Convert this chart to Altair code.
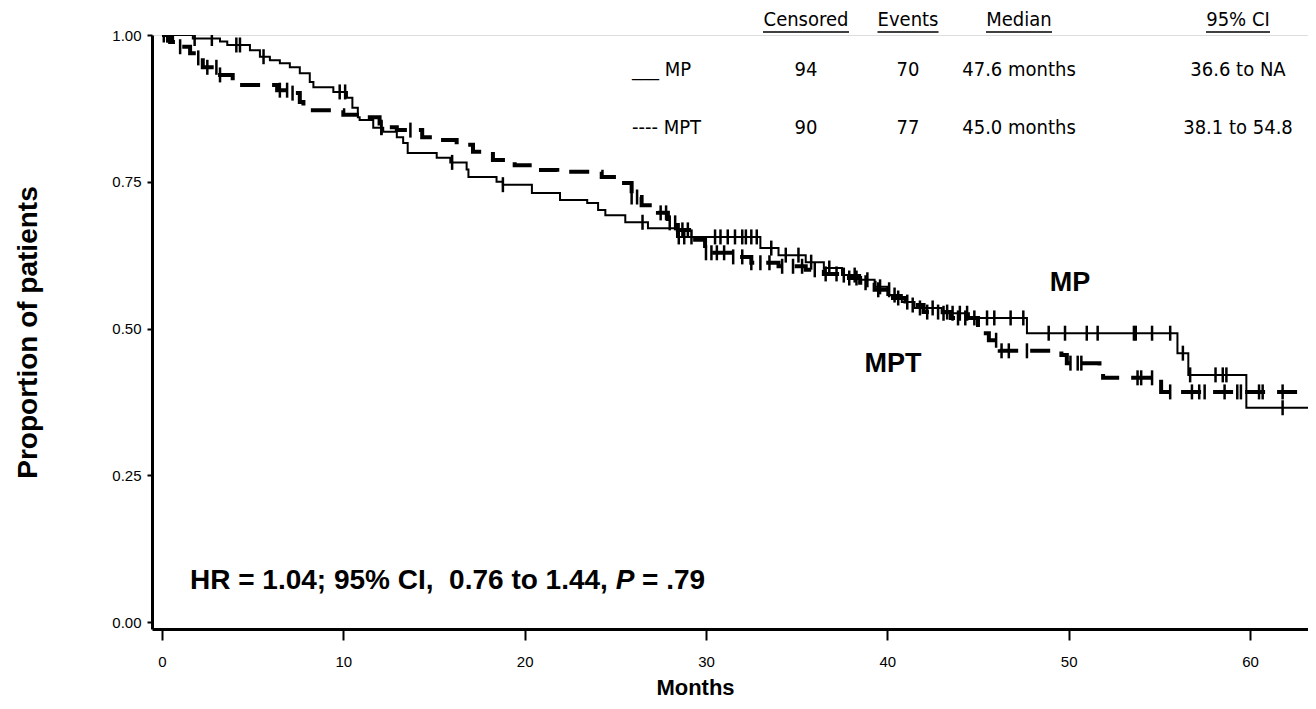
import altair as alt
import numpy as np
import pandas as pd

# ---------------- data ----------------
mp_time = [0, 1.7, 3.2, 3.6, 4.85, 5.4, 5.95, 6.5, 7.05, 7.6, 8.15, 8.35, 9.45, 10.2,
           10.5, 10.8, 10.9, 11.65, 12.2, 12.95, 13.3, 13.55, 15.15, 15.9, 16.8, 16.9,
           18.45, 18.8, 20.4, 21.95, 23.45, 24.05, 24.45, 25.55, 26.8, 28.4, 33.0, 34.0,
           35.5, 36.5, 37.5, 38.5, 39.3, 40.0, 40.8, 41.5, 43.0, 44.5, 47.7, 56.0, 56.6,
           59.8, 63.5]
mp_surv = [1.0, 0.994, 0.989, 0.983, 0.974, 0.963, 0.957, 0.952, 0.945, 0.935, 0.920,
           0.911, 0.903, 0.893, 0.876, 0.860, 0.855, 0.842, 0.835, 0.826, 0.816, 0.799,
           0.791, 0.783, 0.771, 0.758, 0.750, 0.745, 0.731, 0.719, 0.714, 0.702, 0.693,
           0.681, 0.671, 0.656, 0.637, 0.625, 0.613, 0.603, 0.591, 0.583, 0.571, 0.557,
           0.545, 0.535, 0.526, 0.518, 0.492, 0.458, 0.421, 0.365, 0.365]
mp_cens = [0.3, 0.6, 1.8, 2.75, 4.1, 4.3, 5.6, 9.8, 10.1, 12.1, 16.0, 18.8, 26.5, 28.5,
           28.8, 29.2, 30.5, 30.8, 31.2, 31.6, 32.0, 32.2, 32.5, 32.8, 33.6, 34.4, 35.1,
           35.8, 36.8, 37.6, 38.2, 38.9, 39.6, 40.4, 41.1, 41.8, 42.5, 43.1, 43.6, 44.0,
           44.4, 44.8, 45.5, 45.9, 46.8, 47.5, 48.9, 49.8, 51.0, 51.6, 53.6, 53.7, 54.6,
           55.6, 56.3, 56.7, 58.1, 58.5, 58.7, 61.8]

mpt_time = [0, 0.45, 1.0, 1.55, 1.95, 2.25, 3.05, 3.9, 6.35, 7.05, 7.6, 7.8, 8.0, 10.0,
            10.75, 12.0, 12.95, 14.35, 15.5, 16.25, 17.15, 18.25, 19.45, 20.7, 21.8,
            24.25, 25.35, 25.9, 26.45, 27.35, 27.9, 28.45, 29.25, 29.95, 31.45, 32.5,
            34.0, 35.5, 36.5, 37.5, 38.5, 39.3, 40.2, 41.0, 42.0, 43.5, 45.0, 45.6, 46.2,
            49.6, 49.9, 51.7, 51.9, 55.1, 63.5]
mpt_surv = [1.0, 0.988, 0.980, 0.969, 0.961, 0.945, 0.932, 0.915, 0.906, 0.901, 0.886,
            0.877, 0.872, 0.864, 0.860, 0.843, 0.838, 0.826, 0.821, 0.813, 0.801, 0.787,
            0.778, 0.770, 0.767, 0.758, 0.748, 0.724, 0.710, 0.697, 0.680, 0.668, 0.651,
            0.629, 0.622, 0.612, 0.606, 0.600, 0.593, 0.586, 0.578, 0.566, 0.552, 0.540,
            0.528, 0.518, 0.492, 0.480, 0.462, 0.455, 0.441, 0.433, 0.416, 0.392, 0.392]
mpt_cens = [0.1, 0.3, 1.0, 2.0, 2.5, 3.0, 3.2, 6.5, 6.9, 7.2, 12.1, 13.7, 25.9, 26.2,
            27.5, 27.8, 28.0, 28.3, 28.7, 29.0, 30.0, 30.3, 30.6, 31.0, 31.5, 32.0, 32.5,
            33.0, 33.5, 34.2, 34.8, 35.3, 36.0, 36.6, 37.2, 37.9, 38.3, 38.8, 39.5, 40.1,
            40.6, 41.4, 42.2, 42.8, 43.3, 43.9, 44.3, 46.0, 46.3, 46.7, 47.7, 50.1, 50.5,
            50.7, 53.8, 54.0, 54.6, 55.6, 56.8, 57.2, 57.5, 58.6, 59.3, 59.5, 60.5, 60.7,
            61.8, 63.4]

x_ticks = [0, 10, 20, 30, 40, 50, 60]
y_ticks = [0.0, 0.25, 0.5, 0.75, 1.0]

table_headers = ["Censored", "Events", "Median", "95% CI"]
row_labels = ["___ MP", "---- MPT"]
censored = ["94", "90"]
events = ["70", "77"]
medians = ["47.6 months", "45.0 months"]
cis = ["36.6 to NA", "38.1 to 54.8"]
NB = "\u00a0"
hr_text = ["HR = 1.04; 95% CI," + NB + " 0.76 to 1.44,", "P", "= .79"]

# ---------------- build tables ----------------
def step_lookup(times, surv, t):
    idx = np.searchsorted(np.array(times), np.array(t), side="right") - 1
    return [surv[i] for i in idx]

curves = pd.concat([
    pd.DataFrame({"time": mp_time, "surv": mp_surv, "arm": "MP"}),
    pd.DataFrame({"time": mpt_time, "surv": mpt_surv, "arm": "MPT"}),
])
cens = pd.concat([
    pd.DataFrame({"time": mp_cens, "surv": step_lookup(mp_time, mp_surv, mp_cens), "arm": "MP"}),
    pd.DataFrame({"time": mpt_cens, "surv": step_lookup(mpt_time, mpt_surv, mpt_cens), "arm": "MPT"}),
])

# Arial/Liberation Sans Bold advance widths (1/1000 em) to place the italic "P"
BOLD_W = {" ": 278, NB: 278, "%": 889, ",": 278, ".": 278, ";": 333, "=": 584, "C": 722,
          "H": 722, "I": 278, "P": 667, "R": 722, "t": 333, "o": 611}
def bold_width(s, size):
    return sum(BOLD_W.get(c, 556) for c in s) * size / 1000.0

# ---------------- layout ----------------
PL, PT = 152, 35          # plot origin on the page
W, H = 1156, 594
XMIN, XMAX = -0.551, 63.2
YMIN, YMAX = -0.0119, 1.0
NARROW = "DejaVu Sans Condensed, Liberation Sans Narrow, Liberation Sans, Arial"
SANS = "Liberation Sans, Arial, Helvetica"

xs = alt.Scale(domain=[XMIN, XMAX], nice=False, zero=False)
ys = alt.Scale(domain=[YMIN, YMAX], nice=False, zero=False)

x_axis = alt.Axis(values=x_ticks, format="d", title="Months", grid=False,
                  domainWidth=3, domainColor="black", tickColor="black", tickSize=11,
                  tickWidth=2, labelFontSize=15, labelFont=SANS, labelPadding=14,
                  labelColor="black", titleFont=SANS, titleFontSize=22,
                  titleFontWeight="bold", titleColor="black", titleX=543, titleY=58,
                  titleBaseline="middle", titleAnchor="start", titleAlign="center")
y_axis = alt.Axis(values=y_ticks, format=".2f", title="Proportion of patients", grid=False,
                  domainWidth=3, domainColor="black", tickColor="black", tickSize=5,
                  tickWidth=2, labelFontSize=15, labelFont=SANS, labelPadding=6,
                  labelColor="black", titleFont=SANS, titleFontSize=28,
                  titleFontWeight="bold", titleColor="black", titleX=-124, titleY=297,
                  titleAngle=-90, titleBaseline="middle", titleAlign="center")

base = alt.Chart(curves)
mp_line = base.transform_filter(alt.datum.arm == "MP").mark_line(
    interpolate="step-after", color="black", strokeWidth=2, clip=True
).encode(x=alt.X("time:Q", scale=xs, axis=x_axis), y=alt.Y("surv:Q", scale=ys, axis=y_axis))
mpt_line = base.transform_filter(alt.datum.arm == "MPT").mark_line(
    interpolate="step-after", color="black", strokeWidth=4, strokeDash=[20, 12], clip=True
).encode(x=alt.X("time:Q", scale=xs), y=alt.Y("surv:Q", scale=ys))
ticks = alt.Chart(cens).mark_tick(orient="vertical", color="black", size=15, thickness=2.5,
                                  opacity=1, clip=True).encode(
    x=alt.X("time:Q", scale=xs), y=alt.Y("surv:Q", scale=ys))


def txt(s, x, y, size=20, weight="normal", align="center", style="normal", font=NARROW):
    return alt.Chart(pd.DataFrame({"t": [s]})).mark_text(
        align=align, baseline="middle", fontSize=size, fontWeight=weight,
        fontStyle=style, font=font, color="black"
    ).encode(x=alt.value(x - PL), y=alt.value(y - PT), text="t:N")


def underline(x1, x2, y):
    return alt.Chart(pd.DataFrame({"u": [0]})).mark_rule(color="black", strokeWidth=1.3).encode(
        x=alt.value(x1 - PL), x2=alt.value(x2 - PL), y=alt.value(y - PT))


col_x = [806, 908, 1019, 1238]
col_w = [86, 61, 66, 64]
layers = [mp_line, mpt_line, ticks]
for h, cx, cw in zip(table_headers, col_x, col_w):
    layers.append(txt(h, cx, 20))
    layers.append(underline(cx - cw / 2, cx + cw / 2, 32))
for r, yy in enumerate([70, 128]):
    layers.append(txt(row_labels[r], 632, yy, align="left"))
    for vals, cx in zip([censored, events, medians, cis], col_x):
        layers.append(txt(vals[r], cx, yy))

LBL = 27
HRS = 28
layers.append(txt("MP", 1070, 283, size=LBL, weight="bold", font=SANS))
layers.append(txt("MPT", 893, 364, size=LBL, weight="bold", font=SANS))
hx = 190
layers.append(txt(hr_text[0], hx, 581, size=HRS, weight="bold", align="left", font=SANS))
px = hx + bold_width(hr_text[0] + " ", HRS)
layers.append(txt(hr_text[1], px, 581, size=HRS, weight="bold", style="italic", align="left", font=SANS))
qx = px + bold_width(hr_text[1] + " ", HRS)
layers.append(txt(hr_text[2], qx, 581, size=HRS, weight="bold", align="left", font=SANS))

chart = alt.layer(*layers).properties(
    width=W, height=H,
    autosize=alt.AutoSizeParams(type="none"),
    padding={"left": PL - 8, "top": PT - 8, "right": 0, "bottom": 72},
).configure_view(stroke="transparent", strokeWidth=0).configure(background="white")

chart.save("out.html", embed_options={"renderer": "svg", "actions": False})
